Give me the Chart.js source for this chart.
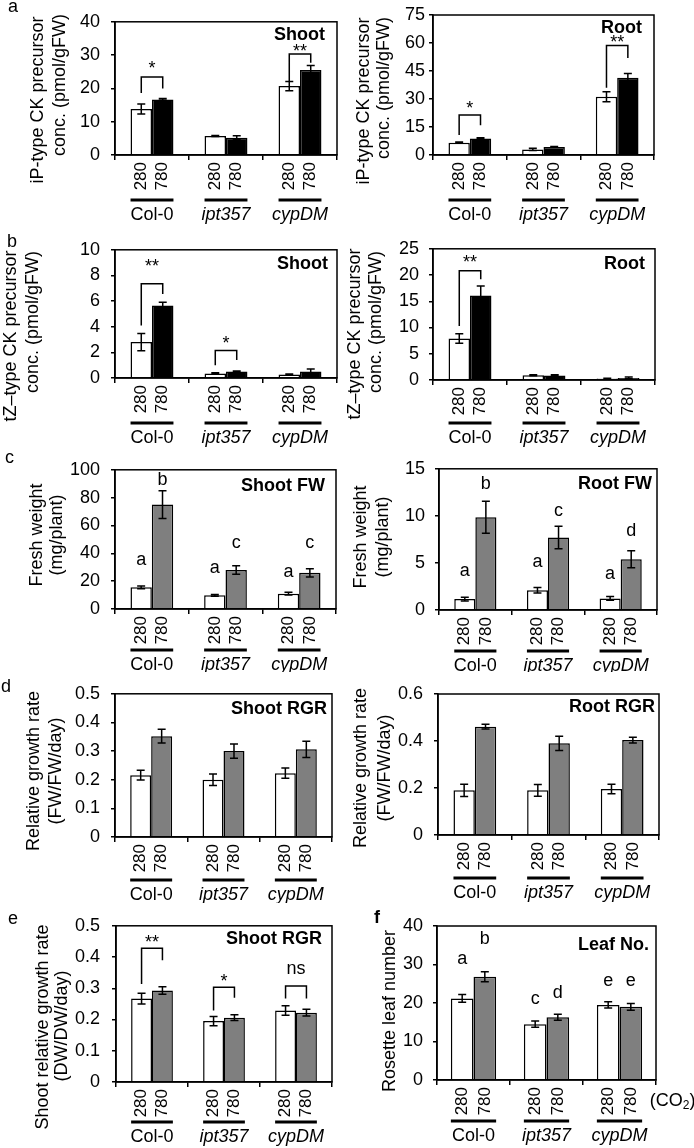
<!DOCTYPE html>
<html>
<head>
<meta charset="utf-8">
<script src="https://cdn.jsdelivr.net/npm/chart.js@4.4.1/dist/chart.umd.min.js"></script>
<style>
  body { margin: 0; background: #fff; }
  #fig { position: relative; width: 694px; height: 1148px; overflow: hidden; }
  canvas { position: absolute; }
</style>
</head>
<body>
<div id="fig"></div>
<script>
const groups = ["Col-0", "ipt357", "cypDM"];
const co2Labels = ["280", "780"];

// a: iP-type CK precursor
const ipShootTicks = [0, 10, 20, 30, 40];
const ipShoot280 = [13.8, 5.7, 20.7];
const ipShoot780 = [16.7, 5.2, 25.5];
const ipShootErr280 = [1.5, 0.15, 1.4];
const ipShootErr780 = [0.25, 0.6, 1.4];
const ipShootBrackets = [[0, 23.4, 18.6, 20.0, "*", 27.1], [2, 30.3, 22.0, 27.7, "**", 32.1]];

const ipRootTicks = [0, 15, 30, 45, 60, 75];
const ipRoot280 = [6.6, 3.0, 31.2];
const ipRoot780 = [8.9, 4.3, 41.4];
const ipRootErr280 = [0.3, 0.6, 2.7];
const ipRootErr780 = [0.4, 0.2, 2.2];
const ipRootBrackets = [[0, 21.4, 10.7, 16.0, "*", 26.8], [2, 58.6, 36.0, 52.0, "**", 62.1]];

// b: tZ-type CK precursor
const tzShootTicks = [0, 2, 4, 6, 8, 10];
const tzShoot280 = [2.8, 0.35, 0.27];
const tzShoot780 = [5.65, 0.5, 0.5];
const tzShootErr280 = [0.67, 0.05, 0.05];
const tzShootErr780 = [0.25, 0.05, 0.2];
const tzShootBrackets = [[0, 7.35, 4.1, 6.55, "**", 8.96], [1, 2.15, 1.0, 1.4, "*", 2.99]];

const tzRootTicks = [0, 5, 10, 15, 20, 25];
const tzRoot280 = [7.9, 0.9, 0.3];
const tzRoot780 = [16.1, 0.85, 0.4];
const tzRootErr280 = [0.9, 0.1, 0.05];
const tzRootErr780 = [1.8, 0.15, 0.15];
const tzRootBrackets = [[0, 20.8, 10.3, 19.2, "**", 23.0]];

// c: fresh weight
const fwShootTicks = [0, 20, 40, 60, 80, 100];
const fwShoot280 = [15.6, 9.8, 11.0];
const fwShoot780 = [75, 28, 26];
const fwShootErr280 = [1.0, 0.7, 1.0];
const fwShootErr780 = [10, 3, 3];
const fwShootLet280 = ["a", "a", "a"];
const fwShootLet780 = ["b", "c", "c"];
const fwShootLetY280 = [34.3, 28.7, 26];
const fwShootLetY780 = [91.6, 47, 47];

const fwRootTicks = [0, 5, 10, 15];
const fwRoot280 = [1.16, 2.1, 1.23];
const fwRoot780 = [9.85, 7.7, 5.4];
const fwRootErr280 = [0.2, 0.3, 0.2];
const fwRootErr780 = [1.7, 1.2, 0.9];
const fwRootLet280 = ["a", "a", "a"];
const fwRootLet780 = ["b", "c", "d"];
const fwRootLetY280 = [4.0, 5.0, 3.7];
const fwRootLetY780 = [13.3, 10.4, 8.3];

// d: relative growth rate (FW)
const rgrShootTicks = [0, 0.1, 0.2, 0.3, 0.4, 0.5];
const rgrShoot280 = [0.216, 0.2, 0.223];
const rgrShoot780 = [0.352, 0.3, 0.306];
const rgrShootErr280 = [0.017, 0.02, 0.018];
const rgrShootErr780 = [0.024, 0.025, 0.028];

const rgrRootTicks = [0, 0.2, 0.4, 0.6];
const rgrRoot280 = [0.19, 0.19, 0.196];
const rgrRoot780 = [0.461, 0.39, 0.404];
const rgrRootErr280 = [0.026, 0.025, 0.02];
const rgrRootErr780 = [0.01, 0.03, 0.012];

// e: shoot relative growth rate (DW)
const dwTicks = [0, 0.1, 0.2, 0.3, 0.4, 0.5];
const dw280 = [0.267, 0.195, 0.229];
const dw780 = [0.293, 0.206, 0.222];
const dwErr280 = [0.017, 0.015, 0.015];
const dwErr780 = [0.012, 0.009, 0.011];
const dwBrackets = [[0, 0.428, 0.314, 0.39, "**", 0.459], [1, 0.303, 0.229, 0.27, "*", 0.334], [2, 0.307, 0.267, 0.267, "ns", 0.36]];

// f: rosette leaf number
const leafTicks = [0, 10, 20, 30, 40];
const leaf280 = [21.2, 14.5, 19.5];
const leaf780 = [26.8, 16.3, 19.0];
const leafErr280 = [1.0, 0.8, 0.8];
const leafErr780 = [1.3, 0.8, 0.9];
const leafLet280 = ["a", "c", "e"];
const leafLet780 = ["b", "d", "e"];
const leafLetY280 = [31.2, 20.8, 25.5];
const leafLetY780 = [36.4, 22.3, 25.5];

const FONT = "'Liberation Sans', Arial, sans-serif";
const GRAY = "#7f7f7f";
Chart.defaults.font.family = FONT;
Chart.defaults.color = "#000";

const panels = [
  { tag: "a", tagPos: [8, 12], name: "Shoot", col: 0, row: [0, 228], plot: [115, 15, 337, 155],
    ticks: ipShootTicks, v: [ipShoot280, ipShoot780], e: [ipShootErr280, ipShootErr780], dark: "#000",
    brackets: ipShootBrackets, title: ["iP-type CK precursor", "conc. (pmol/gFW)"], titleX: [38, 60], titleY: [100, 85],
    pad: 11, nameRight: 12, nameBase: 18, lineGap: 45 },
  { name: "Root", col: 1, row: [0, 228], plot: [433, 15, 654, 155],
    ticks: ipRootTicks, v: [ipRoot280, ipRoot780], e: [ipRootErr280, ipRootErr780], dark: "#000",
    brackets: ipRootBrackets, title: ["iP-type CK precursor", "conc. (pmol/gFW)"], titleX: [364, 384], titleY: [101, 88],
    pad: 4, nameRight: 12, nameBase: 18, lineGap: 45 },
  { tag: "b", tagPos: [7, 247], name: "Shoot", col: 0, row: [228, 448], plot: [115, 244, 337, 378],
    ticks: tzShootTicks, v: [tzShoot280, tzShoot780], e: [tzShootErr280, tzShootErr780], dark: "#000",
    brackets: tzShootBrackets, title: ["tZ\u2013type CK precursor", "conc. (pmol/gFW)"], titleX: [11, 33], titleY: [336, 322],
    pad: 11, nameRight: 9, nameBase: 19, lineGap: 45 },
  { name: "Root", col: 1, row: [228, 448], plot: [433, 243, 655, 380],
    ticks: tzRootTicks, v: [tzRoot280, tzRoot780], e: [tzRootErr280, tzRootErr780], dark: "#000",
    brackets: tzRootBrackets, title: ["tZ\u2013type CK precursor", "conc. (pmol/gFW)"], titleX: [355, 376], titleY: [334, 322],
    pad: 10, nameRight: 10, nameBase: 20, lineGap: 43 },
  { tag: "c", tagPos: [5, 463], name: "Shoot FW", col: 0, row: [448, 672], plot: [115, 466, 336, 609],
    ticks: fwShootTicks, v: [fwShoot280, fwShoot780], e: [fwShootErr280, fwShootErr780], dark: GRAY,
    letters: [fwShootLet280, fwShootLet780], letterY: [fwShootLetY280, fwShootLetY780],
    title: ["Fresh weight", "(mg/plant)"], titleX: [37, 57], titleY: [535, 535],
    pad: 11, nameRight: 11, nameBase: 21, lineGap: 41 },
  { name: "Root FW", col: 1, row: [448, 672], plot: [439, 468, 657, 610],
    ticks: fwRootTicks, v: [fwRoot280, fwRoot780], e: [fwRootErr280, fwRootErr780], dark: GRAY,
    letters: [fwRootLet280, fwRootLet780], letterY: [fwRootLetY280, fwRootLetY780],
    title: ["Fresh weight", "(mg/plant)"], titleX: [361, 383], titleY: [537, 537],
    pad: 10, nameRight: 5, nameBase: 20, lineGap: 41 },
  { tag: "d", tagPos: [1, 692], name: "Shoot RGR", col: 0, row: [672, 903], plot: [115, 692, 332, 837],
    ticks: rgrShootTicks, v: [rgrShoot280, rgrShoot780], e: [rgrShootErr280, rgrShootErr780], dark: GRAY,
    title: ["Relative growth rate", "(FW/FW/day)"], titleX: [34, 56], titleY: [771, 771],
    pad: 11, nameRight: 5, nameBase: 20, lineGap: 43 },
  { name: "Root RGR", col: 1, row: [672, 903], plot: [438, 694, 659, 835],
    ticks: rgrRootTicks, v: [rgrRoot280, rgrRoot780], e: [rgrRootErr280, rgrRootErr780], dark: GRAY,
    title: ["Relative growth rate", "(FW/FW/day)"], titleX: [361, 385], titleY: [768, 768],
    pad: 11, nameRight: 4, nameBase: 18, lineGap: 43 },
  { tag: "e", tagPos: [8, 924], name: "Shoot RGR", col: 0, row: [903, 1148], plot: [116, 925, 332, 1082],
    ticks: dwTicks, v: [dw280, dw780], e: [dwErr280, dwErr780], dark: GRAY,
    brackets: dwBrackets, title: ["Shoot relative growth rate", "(DW/DW/day)"], titleX: [43, 62], titleY: [1027, 1026],
    pad: 12, nameRight: 10, nameBase: 18, lineGap: 40 },
  { tag: "f", tagBold: true, tagPos: [374, 923], name: "Leaf No.", col: 1, row: [903, 1148], plot: [437, 926, 656, 1080],
    ticks: leafTicks, v: [leaf280, leaf780], e: [leafErr280, leafErr780], dark: GRAY, catPct: 0.62,
    letters: [leafLet280, leafLet780], letterY: [leafLetY280, leafLetY780],
    title: ["Rosette leaf number"], titleX: [390], titleY: [1011],
    pad: 10, nameRight: 7, nameBase: 24, lineGap: 41, co2: true }
];

function overlay(p) {
  return {
    id: "overlay",
    afterDraw(chart) {
      const ctx = chart.ctx, area = chart.chartArea, ys = chart.scales.y;
      const metas = [chart.getDatasetMeta(0), chart.getDatasetMeta(1)];
      const ox = p.col * 347, oy = p.row[0];
      ctx.save();
      ctx.strokeStyle = "#000";
      ctx.fillStyle = "#000";
      ctx.lineWidth = 1.5;
      ctx.strokeRect(area.left, area.top, area.right - area.left, area.bottom - area.top);

      // error bars
      metas.forEach((meta, k) => meta.data.forEach((bar, i) => {
        const hi = ys.getPixelForValue(p.v[k][i] + p.e[k][i]);
        const lo = ys.getPixelForValue(p.v[k][i] - p.e[k][i]);
        ctx.beginPath();
        ctx.moveTo(bar.x, hi); ctx.lineTo(bar.x, lo);
        ctx.moveTo(bar.x - 4, hi); ctx.lineTo(bar.x + 4, hi);
        ctx.moveTo(bar.x - 4, lo); ctx.lineTo(bar.x + 4, lo);
        ctx.stroke();
      }));

      // significance brackets
      ctx.textAlign = "center";
      ctx.textBaseline = "middle";
      (p.brackets || []).forEach(([g, top, lb, rb, mark, my]) => {
        const x0 = metas[0].data[g].x, x1 = metas[1].data[g].x;
        const yt = ys.getPixelForValue(top);
        ctx.beginPath();
        ctx.moveTo(x0, ys.getPixelForValue(lb));
        ctx.lineTo(x0, yt);
        ctx.lineTo(x1, yt);
        ctx.lineTo(x1, ys.getPixelForValue(rb));
        ctx.stroke();
        ctx.font = "18px " + FONT;
        ctx.fillText(mark, (x0 + x1) / 2, ys.getPixelForValue(my) + (mark === "ns" ? -1 : 4));
      });

      // letters
      if (p.letters) {
        ctx.font = "18px " + FONT;
        metas.forEach((meta, k) => meta.data.forEach((bar, i) => {
          ctx.fillText(p.letters[k][i], bar.x, ys.getPixelForValue(p.letterY[k][i]) - 1);
        }));
      }

      // rotated CO2 labels
      ctx.font = "17px " + FONT;
      metas.forEach((meta, k) => meta.data.forEach(bar => {
        ctx.save();
        ctx.translate(bar.x, area.bottom + 7);
        ctx.rotate(-Math.PI / 2);
        ctx.textAlign = "right";
        ctx.textBaseline = "middle";
        ctx.fillText(co2Labels[k], 0, 0);
        ctx.restore();
      }));

      // genotype lines and names
      groups.forEach((g, i) => {
        const b0 = metas[0].data[i], b1 = metas[1].data[i];
        const x0 = b0.x - b0.width / 2, x1 = b1.x + b1.width / 2;
        const ly = area.bottom + p.lineGap;
        ctx.lineWidth = 3;
        ctx.beginPath();
        ctx.moveTo(x0, ly); ctx.lineTo(x1, ly);
        ctx.stroke();
        ctx.font = (i > 0 ? "italic " : "") + "18px " + FONT;
        ctx.textAlign = "center";
        ctx.textBaseline = "alphabetic";
        ctx.fillText(g, (x0 + x1) / 2, ly + 20);
      });

      if (p.co2) {
        const last = metas[1].data[2];
        const cy = area.bottom + 21;
        let x = last.x + 19;
        ctx.font = "18px " + FONT;
        ctx.textAlign = "left";
        ctx.textBaseline = "middle";
        ctx.fillText("(CO", x, cy);
        x += ctx.measureText("(CO").width;
        ctx.font = "12px " + FONT;
        ctx.fillText("2", x, cy + 5);
        x += ctx.measureText("2").width;
        ctx.font = "18px " + FONT;
        ctx.fillText(")", x, cy);
      }

      // panel name inside the box
      ctx.font = "bold 18px " + FONT;
      ctx.textAlign = "right";
      ctx.textBaseline = "alphabetic";
      ctx.fillText(p.name, area.right - p.nameRight, area.top + p.nameBase);

      // panel tag
      if (p.tag) {
        ctx.font = (p.tagBold ? "bold " : "") + "18px " + FONT;
        ctx.textAlign = "left";
        ctx.fillText(p.tag, p.tagPos[0] - ox, p.tagPos[1] - oy);
      }

      // y axis title
      ctx.font = "18px " + FONT;
      p.title.forEach((t, j) => {
        ctx.save();
        ctx.translate(p.titleX[j] - ox, p.titleY[j] - oy);
        ctx.rotate(-Math.PI / 2);
        ctx.textAlign = "center";
        ctx.textBaseline = "middle";
        ctx.fillText(t, 0, 0);
        ctx.restore();
      });
      ctx.restore();
    }
  };
}

function build(p) {
  const colLeft = p.col * 347;
  const cw = 347, ch = p.row[1] - p.row[0];
  const [pl, pt, pr, pb] = p.plot;
  const canvas = document.createElement("canvas");
  canvas.width = cw;
  canvas.height = ch;
  canvas.style.left = colLeft + "px";
  canvas.style.top = p.row[0] + "px";
  canvas.style.width = cw + "px";
  canvas.style.height = ch + "px";
  document.getElementById("fig").appendChild(canvas);

  const pct = p.catPct || 0.58;
  new Chart(canvas.getContext("2d"), {
    type: "bar",
    data: {
      labels: groups,
      datasets: [
        { label: co2Labels[0], data: p.v[0], backgroundColor: "#fff", borderColor: "#000", borderWidth: 1.5,
          categoryPercentage: pct, barPercentage: 1.0 },
        { label: co2Labels[1], data: p.v[1], backgroundColor: p.dark, borderColor: "#000", borderWidth: 1.5,
          categoryPercentage: pct, barPercentage: 1.0 }
      ]
    },
    options: {
      responsive: false,
      animation: false,
      devicePixelRatio: 1,
      layout: { padding: { top: pt - p.row[0], right: colLeft + cw - pr, left: 0, bottom: 0 } },
      plugins: { legend: { display: false }, tooltip: { enabled: false } },
      scales: {
        x: {
          offset: true,
          grid: { offset: true, drawOnChartArea: false, drawTicks: true, tickLength: 5, color: "#000", lineWidth: 1.5 },
          border: { display: true, color: "#000", width: 1.5 },
          ticks: { display: false },
          afterFit: (s) => { s.height = p.row[1] - pb; }
        },
        y: {
          min: p.ticks[0],
          max: p.ticks[p.ticks.length - 1],
          grid: { drawOnChartArea: false, drawTicks: true, tickLength: 4, color: "#000", lineWidth: 1.5 },
          border: { display: true, color: "#000", width: 1.5 },
          ticks: { stepSize: p.ticks[1] - p.ticks[0], padding: p.pad, color: "#000", font: { size: 18 } },
          afterFit: (s) => { s.width = pl - colLeft; }
        }
      }
    },
    plugins: [overlay(p)]
  });
}

panels.forEach(build);
</script>
</body>
</html>
